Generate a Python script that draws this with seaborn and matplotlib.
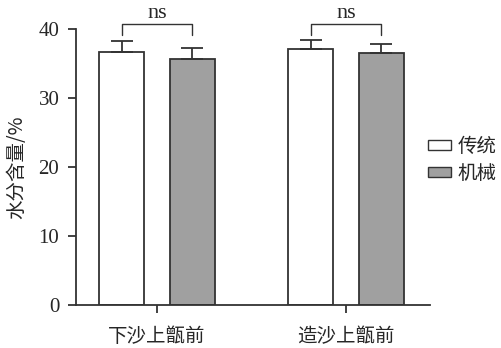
import matplotlib
matplotlib.use("Agg")
import matplotlib.pyplot as plt
import seaborn as sns
import pandas as pd
import numpy as np
from matplotlib.patches import Patch

categories = ["下沙上甑前", "造沙上甑前"]
groups = ["传统", "机械"]
means_trad = [36.7, 37.1]
means_mech = [35.6, 36.5]
err_trad = [1.6, 1.3]
err_mech = [1.6, 1.3]
sig_labels = ["ns", "ns"]

sns.set_style("white")
plt.rcParams['font.family'] = ['Liberation Serif', 'Noto Sans CJK SC']
cjk = ['Noto Sans CJK SC', 'DejaVu Sans']

df = pd.DataFrame({
    "cat": categories * 2,
    "grp": [groups[0]] * 2 + [groups[1]] * 2,
    "val": means_trad + means_mech,
    "err": err_trad + err_mech,
})

fig = plt.figure(figsize=(5.02, 3.48), dpi=100)
ax = fig.add_axes([76/502, 1-305/348, 354/502, 276/348])
palette = {groups[0]: "#ffffff", groups[1]: "#a0a0a0"}
sns.barplot(data=df, x="cat", y="val", hue="grp", palette=palette,
            width=0.746, gap=0.36, edgecolor="#333333", linewidth=1.3,
            errorbar=None, ax=ax, legend=False)

# error bars from bar patches
bars = [p for p in ax.patches]
errs = err_trad + err_mech
for p, e in zip(bars, errs):
    xc = p.get_x() + p.get_width() / 2
    h = p.get_height()
    ax.errorbar([xc], [h], yerr=[[0], [e]], fmt="none", ecolor="#333333",
                elinewidth=1.3, capsize=8, capthick=1.3, clip_on=False)

# significance brackets
n = len(categories)
for i in range(n):
    pa, pb = bars[i], bars[i + n]
    xa = pa.get_x() + pa.get_width() / 2
    xb = pb.get_x() + pb.get_width() / 2
    y0, y1 = 39.1, 40.75
    ax.plot([xa, xa, xb, xb], [y0, y1, y1, y0], color="#333333", lw=1.0, clip_on=False)
    ax.text((xa + xb) / 2, y1 + 0.05, sig_labels[i], ha="center", va="bottom", fontsize=16)

ax.set_ylim(0, 40)
ax.set_xlim(-0.4286, 1.444)
ax.set_yticks([0, 10, 20, 30, 40])
ax.tick_params(axis="y", labelsize=15, length=6, width=1.3, direction="out", left=True, color="#333333", pad=6)
ax.tick_params(axis="x", length=6, width=1.3, direction="out", bottom=True, color="#333333", pad=9)
for lbl in ax.get_xticklabels():
    lbl.set_fontfamily(cjk)
    lbl.set_fontsize(14)
ax.set_xlabel("")
ax.set_ylabel("水分含量/%", fontsize=14, family=cjk, labelpad=8)
sns.despine(ax=ax)
for s in ["left", "bottom"]:
    ax.spines[s].set_linewidth(1.3)
    ax.spines[s].set_color("#333333")

handles = [Patch(facecolor=palette[g], edgecolor="#333333", linewidth=1.0) for g in groups]
leg = fig.legend(handles, groups, loc="center left", bbox_to_anchor=(428/502, 1-160/348),
                 frameon=False, prop={"family": cjk, "size": 14}, borderpad=0, borderaxespad=0,
                 handlelength=1.2, handleheight=0.45, handletextpad=0.3, labelspacing=0.3)

fig.savefig("out.png", dpi=100)
